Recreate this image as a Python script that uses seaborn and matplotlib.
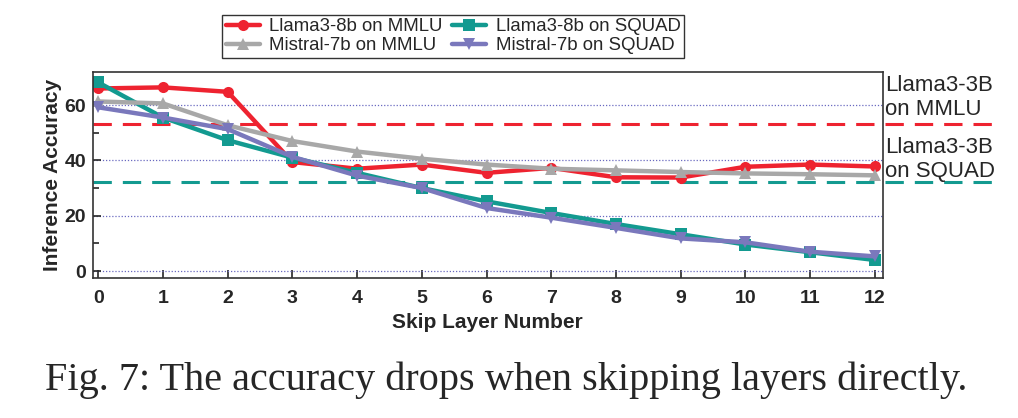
import numpy as np
import pandas as pd
import seaborn as sns
import matplotlib.pyplot as plt
from matplotlib.ticker import MultipleLocator

# ---------- DATA ---------- #
skip_layers = list(range(13))
llama_mmlu = [66.0, 66.4, 64.8, 39.4, 37.0, 38.5, 35.5, 37.3, 33.9, 33.8, 37.7, 38.5, 37.8]
llama_squad = [68.2, 55.5, 47.3, 41.0, 35.5, 30.0, 25.2, 21.0, 17.0, 13.3, 9.6, 6.8, 4.0]
mistral_mmlu = [61.3, 60.6, 52.7, 47.0, 43.2, 40.6, 38.5, 37.0, 36.4, 35.8, 35.3, 35.0, 34.6]
mistral_squad = [59.2, 55.5, 51.3, 41.3, 34.5, 30.0, 22.8, 19.3, 15.6, 11.8, 10.4, 7.0, 5.3]
ref_llama3b_mmlu = 53.0
ref_llama3b_squad = 32.2
series_names = ["Llama3-8b on MMLU", "Llama3-8b on SQUAD", "Mistral-7b on MMLU", "Mistral-7b on SQUAD"]
# --------------------------- #

colors = {series_names[0]: "#EE2330", series_names[1]: "#139A90",
          series_names[2]: "#A8A8A8", series_names[3]: "#7A78BC"}
markers = {series_names[0]: "o", series_names[1]: "s",
           series_names[2]: "^", series_names[3]: "v"}

df = pd.DataFrame({
    "layer": skip_layers * 4,
    "acc": llama_mmlu + llama_squad + mistral_mmlu + mistral_squad,
    "series": sum([[n] * len(skip_layers) for n in series_names], []),
})

sns.set_style("ticks")
plt.rcParams["font.family"] = ["Liberation Sans", "DejaVu Sans"]

fig = plt.figure(figsize=(10.18, 4.18), dpi=100)
ax = fig.add_axes([0.0914, 0.335, 0.7756, 0.493])

sns.lineplot(data=df, x="layer", y="acc", hue="series", style="series",
             hue_order=series_names, style_order=series_names,
             palette=colors, markers=markers, dashes=False,
             linewidth=3.2, markersize=8, markeredgewidth=0, ax=ax)

# reference lines of the 3B model, running past the right edge
for val, col in [(ref_llama3b_mmlu, "#EE2330"), (ref_llama3b_squad, "#139A90")]:
    ax.plot([-0.08, 13.9], [val, val], ls=(0, (6, 3.6)), color=col, lw=2.2,
            clip_on=False, zorder=1)

ax.text(1.003, 0.875, "Llama3-3B\non MMLU", transform=ax.transAxes, fontsize=16,
        ha="left", va="center", linespacing=1.15)
ax.text(1.003, 0.575, "Llama3-3B\non SQUAD", transform=ax.transAxes, fontsize=16,
        ha="left", va="center", linespacing=1.15)

ax.set_xlim(-0.08, 12.12)
ax.set_ylim(-2.5, 72)
ax.set_xticks(skip_layers)
ax.set_yticks([0, 20, 40, 60])
ax.yaxis.set_minor_locator(MultipleLocator(10))
ax.tick_params(direction="in", length=6, width=1.2, labelsize=14)
ax.tick_params(axis="x", pad=9)
ax.tick_params(axis="y", pad=5)
ax.tick_params(which="minor", direction="in", length=4, width=1.2)
for lab in ax.get_xticklabels() + ax.get_yticklabels():
    lab.set_fontweight("bold")
ax.yaxis.grid(True, ls=(0, (1, 1.5)), color="#6A6AC0", lw=0.9)
for s in ax.spines.values():
    s.set_visible(True)
    s.set_linewidth(1.2)
    s.set_color("#333333")

ax.set_xlabel("Skip Layer Number", fontsize=15, fontweight="bold", labelpad=4)
ax.set_ylabel("Inference Accuracy", fontsize=15, fontweight="bold", labelpad=2)

# legend in column order: MMLU pair first, then SQUAD pair
handles, labels = ax.get_legend_handles_labels()
lookup = dict(zip(labels, handles))
order = [series_names[0], series_names[2], series_names[1], series_names[3]]
leg = ax.legend([lookup[n] for n in order], order, ncol=2, loc="lower center",
                bbox_to_anchor=(0.456, 1.068), fontsize=13.4, frameon=True,
                fancybox=False, edgecolor="black", borderpad=0.2,
                handlelength=1.85, handletextpad=0.5, columnspacing=0.5,
                labelspacing=0.1, borderaxespad=0)
leg.get_frame().set_linewidth(1.0)

fig.text(0.497, 0.09, "Fig. 7: The accuracy drops when skipping layers directly.",
         family=["Liberation Serif", "DejaVu Serif"], fontsize=29,
         ha="center", va="center")

fig.savefig("out.png", dpi=100)
